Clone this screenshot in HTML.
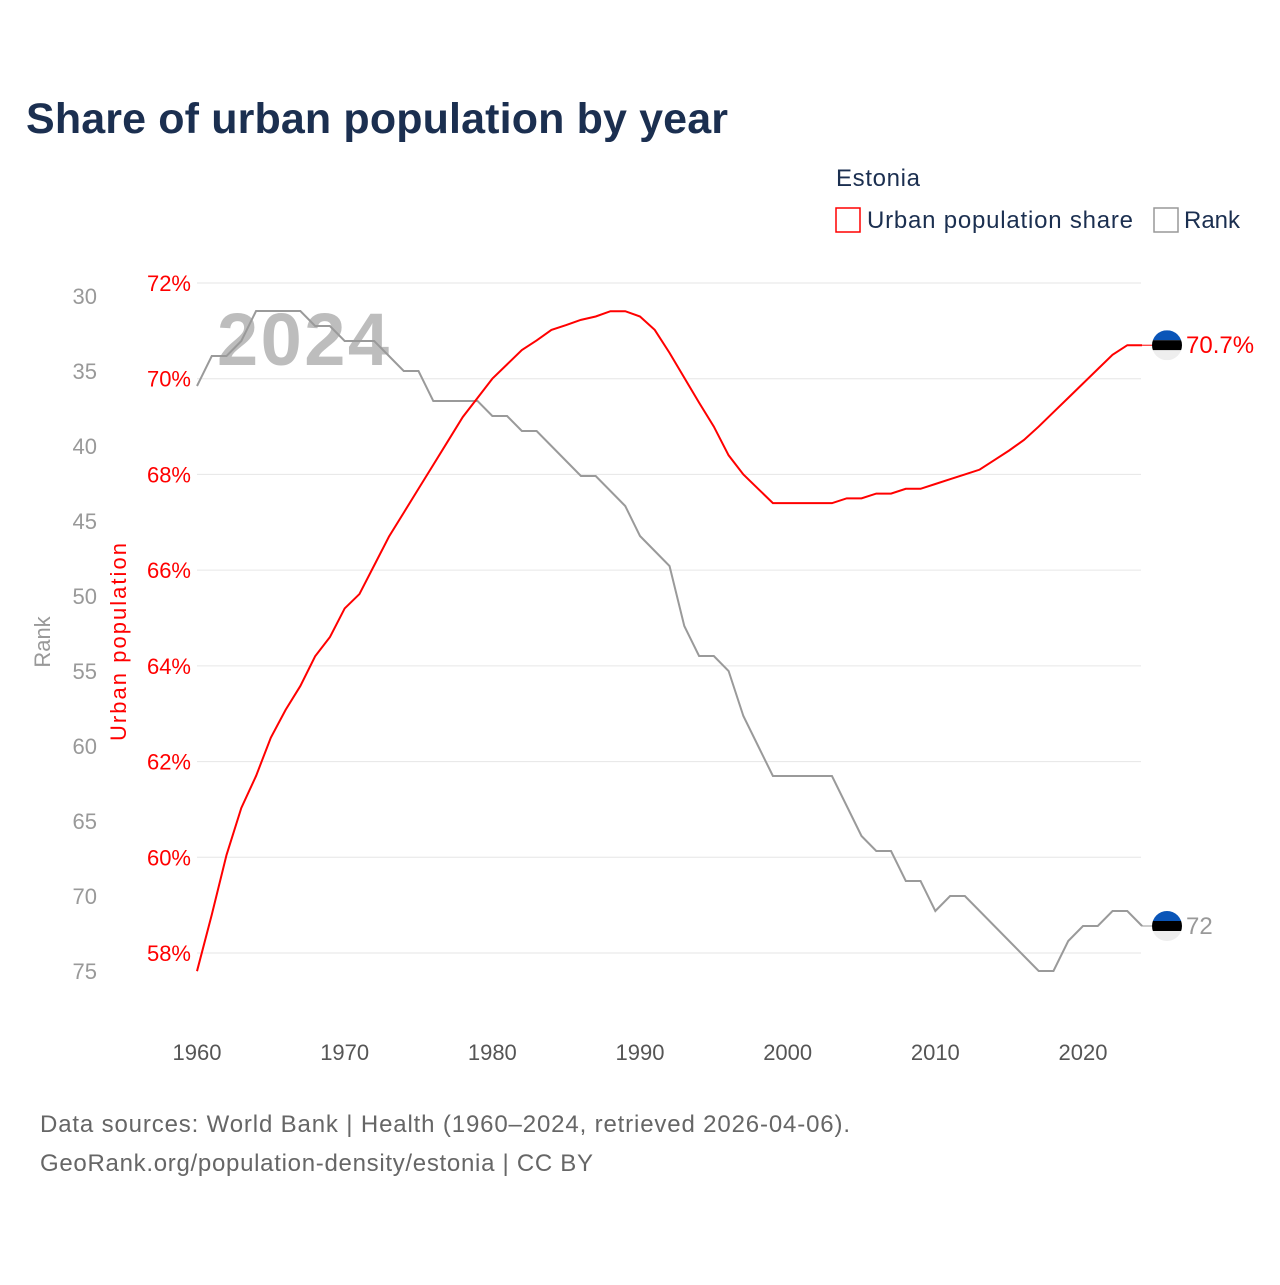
<!DOCTYPE html>
<html><head><meta charset="utf-8"><style>
body{margin:0;background:#fff;width:1280px;height:1280px;overflow:hidden;font-family:"Liberation Sans",sans-serif}
</style></head><body>
<svg width="1280" height="1280" xmlns="http://www.w3.org/2000/svg">
<defs><clipPath id="fc"><circle cx="0" cy="0" r="15"/></clipPath></defs>
<text x="26" y="133" font-size="43" font-weight="bold" fill="#1b2f50" textLength="702">Share of urban population by year</text>
<text x="836" y="186" font-size="24" fill="#1b2f50" textLength="84">Estonia</text>
<g><rect x="836" y="208" width="24" height="24" fill="none" stroke="#f00" stroke-width="1.5"/><text x="867" y="228" font-size="24" fill="#1b2f50" textLength="266">Urban population share</text></g>
<g><rect x="1154" y="208" width="24" height="24" fill="none" stroke="#999" stroke-width="1.5"/><text x="1184" y="228" font-size="24" fill="#1b2f50">Rank</text></g>
<g id="grid"></g><g id="ticks"></g>
<text x="217" y="365" font-size="74" font-weight="bold" fill="#bdbdbd" textLength="172">2024</text>
<text transform="translate(50,642) rotate(-90)" text-anchor="middle" font-size="22" fill="#999">Rank</text>
<text transform="translate(126,642) rotate(-90)" text-anchor="middle" font-size="22" fill="#f00" textLength="198">Urban population</text>
<g id="series"></g>
<text x="40" y="1132" font-size="24" fill="#666" textLength="810">Data sources: World Bank | Health (1960–2024, retrieved 2026-04-06).</text>
<text x="40" y="1171" font-size="24" fill="#666" textLength="553">GeoRank.org/population-density/estonia | CC BY</text>
</svg>
<script>
const years=[];for(let y=1960;y<=2024;y++)years.push(y);
const urban=[57.62,58.8,60.05,61.03,61.7,62.5,63.08,63.58,64.2,64.6,65.2,65.5,66.1,66.7,67.2,67.7,68.2,68.7,69.2,69.6,70.0,70.3,70.6,70.8,71.02,71.12,71.23,71.3,71.41,71.41,71.3,71.02,70.54,70.02,69.5,69.0,68.4,68.0,67.7,67.4,67.4,67.4,67.4,67.4,67.5,67.5,67.6,67.6,67.7,67.7,67.8,67.9,68.0,68.1,68.3,68.5,68.72,69.0,69.3,69.6,69.9,70.2,70.5,70.7,70.7];
const rank=[36,34,34,33,31,31,31,31,32,32,33,33,33,34,35,35,37,37,37,37,38,38,39,39,40,41,42,42,43,44,46,47,48,52,54,54,55,58,60,62,62,62,62,62,64,66,67,67,69,69,71,70,70,71,72,73,74,75,75,73,72,72,71,71,72];
const urbanTicks=[58,60,62,64,66,68,70,72];
const rankTicks=[30,35,40,45,50,55,60,65,70,75];
const xTicks=[1960,1970,1980,1990,2000,2010,2020];
const NS="http://www.w3.org/2000/svg";
const X=y=>197+(y-1960)*886/60;
const YU=v=>283+(72-v)*670/14;
const YR=r=>296+(r-30)*15;
function mk(t,a,p){const e=document.createElementNS(NS,t);for(const k in a)e.setAttribute(k,a[k]);p.appendChild(e);return e;}
const g=document.getElementById('grid'),tk=document.getElementById('ticks'),s=document.getElementById('series');
urbanTicks.forEach(v=>{
 const l=mk('line',{x1:197,x2:1141,y1:YU(v),y2:YU(v),stroke:'#e6e6e6','stroke-width':1},g);
 
 
 const t=mk('text',{x:191,y:YU(v)+8,'text-anchor':'end','font-size':22,fill:'#f00'},tk);t.textContent=v+'%';
 
 
});
rankTicks.forEach(r=>{
 const t=mk('text',{x:97,y:YR(r)+8,'text-anchor':'end','font-size':22,fill:'#999'},tk);t.textContent=r;
 
 
});
xTicks.forEach(y=>{
 const t=mk('text',{x:X(y),y:1060,'text-anchor':'middle','font-size':22,fill:'#555'},tk);t.textContent=y;
 
 
});
const pr=mk('polyline',{points:years.map((y,i)=>X(y)+','+YR(rank[i])).join(' '),fill:'none',stroke:'#9a9a9a','stroke-width':2},s);


const pu=mk('polyline',{points:years.map((y,i)=>X(y)+','+YU(urban[i])).join(' '),fill:'none',stroke:'#f00','stroke-width':2},s);


function flag(cy,col,label,name){
 const last=X(2024);
 mk('line',{x1:last,x2:1152,y1:cy,y2:cy,stroke:col,'stroke-width':1},s);
 const f=mk('g',{transform:`translate(1167,${cy})`},s);
 
 
 const c=mk('g',{'clip-path':'url(#fc)'},f);
 mk('rect',{x:-15,y:-15,width:30,height:10,fill:'#0a55b8'},c);
 mk('rect',{x:-15,y:-5,width:30,height:10,fill:'#000'},c);
 mk('rect',{x:-15,y:5,width:30,height:10,fill:'#eee'},c);
 const t=mk('text',{x:1186,y:cy+8,'font-size':24,fill:col},s);t.textContent=label;
 
 
}
flag(YU(urban[urban.length-1]),'#f00',urban[urban.length-1].toFixed(1)+'%','urban');
flag(YR(rank[rank.length-1]),'#999',String(rank[rank.length-1]),'rank');
</script>
</body></html>
